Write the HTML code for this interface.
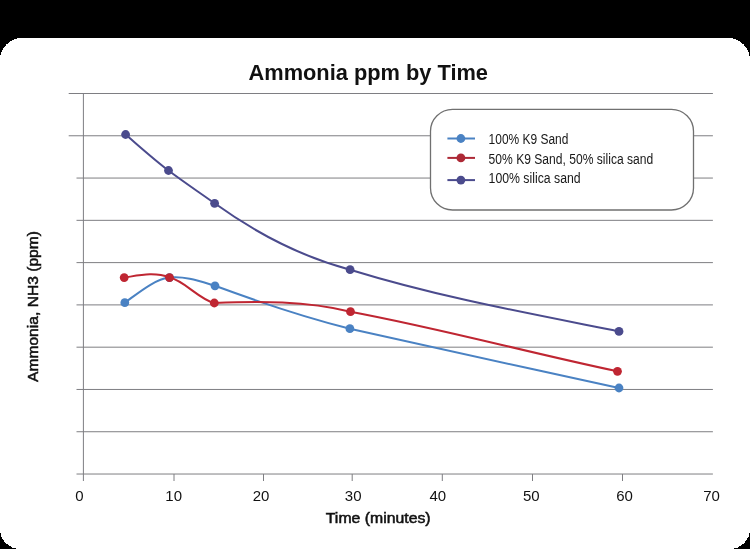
<!DOCTYPE html>
<html><head><meta charset="utf-8"><style>
html,body{margin:0;padding:0;background:#000;width:750px;height:549px;overflow:hidden}
svg{display:block;will-change:transform}
text{font-family:"Liberation Sans",sans-serif;fill:#111}
.ti{font-weight:bold;font-size:21.4px}
.ax{font-size:14px;stroke:#111;stroke-width:0.5px}
.tk{font-size:15px}
.lg{font-size:14px;fill:#181818}
</style></head><body>
<svg width="750" height="549" viewBox="0 0 750 549">
<path d="M22,38 H728 A22,22 0 0 1 750,60 V529 A20,20 0 0 1 730,549 H20 A20,20 0 0 1 0,529 V60 A22,22 0 0 1 22,38 Z" fill="#fff" shape-rendering="crispEdges"/>
<line x1="68.7" y1="93.50" x2="712.9" y2="93.50" stroke="#7e7e82" stroke-width="1.0"/>
<line x1="68.7" y1="135.78" x2="712.9" y2="135.78" stroke="#7e7e82" stroke-width="1.0"/>
<line x1="76.5" y1="178.06" x2="712.9" y2="178.06" stroke="#7e7e82" stroke-width="1.0"/>
<line x1="76.5" y1="220.34" x2="712.9" y2="220.34" stroke="#7e7e82" stroke-width="1.0"/>
<line x1="76.5" y1="262.62" x2="712.9" y2="262.62" stroke="#7e7e82" stroke-width="1.0"/>
<line x1="76.5" y1="304.90" x2="712.9" y2="304.90" stroke="#7e7e82" stroke-width="1.0"/>
<line x1="76.5" y1="347.18" x2="712.9" y2="347.18" stroke="#7e7e82" stroke-width="1.0"/>
<line x1="76.5" y1="389.46" x2="712.9" y2="389.46" stroke="#7e7e82" stroke-width="1.0"/>
<line x1="76.5" y1="431.74" x2="712.9" y2="431.74" stroke="#7e7e82" stroke-width="1.0"/>
<line x1="76.5" y1="474.02" x2="712.9" y2="474.02" stroke="#7e7e82" stroke-width="1.0"/>
<line x1="83.4" y1="93" x2="83.4" y2="481" stroke="#7e7e82" stroke-width="1.0"/>
<line x1="174.0" y1="474" x2="174.0" y2="481" stroke="#7e7e82" stroke-width="1.0"/>
<line x1="263.5" y1="474" x2="263.5" y2="481" stroke="#7e7e82" stroke-width="1.0"/>
<line x1="352.2" y1="474" x2="352.2" y2="481" stroke="#7e7e82" stroke-width="1.0"/>
<line x1="442.3" y1="474" x2="442.3" y2="481" stroke="#7e7e82" stroke-width="1.0"/>
<line x1="532.5" y1="474" x2="532.5" y2="481" stroke="#7e7e82" stroke-width="1.0"/>
<line x1="622.5" y1="474" x2="622.5" y2="481" stroke="#7e7e82" stroke-width="1.0"/>
<text x="79.5" y="500.8" text-anchor="middle" class="tk">0</text>
<text x="173.7" y="500.8" text-anchor="middle" class="tk">10</text>
<text x="261.1" y="500.8" text-anchor="middle" class="tk">20</text>
<text x="353.2" y="500.8" text-anchor="middle" class="tk">30</text>
<text x="437.8" y="500.8" text-anchor="middle" class="tk">40</text>
<text x="531.3" y="500.8" text-anchor="middle" class="tk">50</text>
<text x="624.5" y="500.8" text-anchor="middle" class="tk">60</text>
<text x="711.6" y="500.8" text-anchor="middle" class="tk">70</text>
<text x="248.5" y="79.7" textLength="239.5" lengthAdjust="spacingAndGlyphs" class="ti">Ammonia ppm by Time</text>
<text x="325.8" y="523.2" textLength="104.8" lengthAdjust="spacingAndGlyphs" class="ax">Time (minutes)</text>
<text transform="translate(38.3,382) rotate(-90)" x="0" y="0" textLength="151" lengthAdjust="spacingAndGlyphs" class="ax">Ammonia, NH3 (ppm)</text>
<path d="M124.80,302.70 C139.70,291.97 154.60,279.39 169.50,277.60 C184.67,275.78 199.83,281.25 215.00,285.80 C259.97,302.35 304.93,317.46 349.90,328.70 C439.60,349.33 529.30,368.27 619.00,388.00" fill="none" stroke="#4a82c3" stroke-width="2.0"/>
<circle cx="124.8" cy="302.7" r="4.4" fill="#4a82c3"/>
<circle cx="169.5" cy="277.6" r="4.4" fill="#4a82c3"/>
<circle cx="215.0" cy="285.8" r="4.4" fill="#4a82c3"/>
<circle cx="349.9" cy="328.7" r="4.4" fill="#4a82c3"/>
<circle cx="619.0" cy="388.0" r="4.4" fill="#4a82c3"/>
<path d="M124.20,277.60 C139.30,275.34 154.40,271.56 169.50,277.60 C184.43,280.59 199.37,299.71 214.30,303.00 C259.70,301.18 305.10,300.80 350.50,311.70 C439.50,328.25 528.50,352.61 617.50,371.30" fill="none" stroke="#bf2632" stroke-width="2.0"/>
<circle cx="124.2" cy="277.6" r="4.4" fill="#bf2632"/>
<circle cx="169.5" cy="277.6" r="4.4" fill="#bf2632"/>
<circle cx="214.3" cy="303.0" r="4.4" fill="#bf2632"/>
<circle cx="350.5" cy="311.7" r="4.4" fill="#bf2632"/>
<circle cx="617.5" cy="371.3" r="4.4" fill="#bf2632"/>
<path d="M125.60,134.50 C139.90,146.80 154.20,159.63 168.50,170.50 C183.87,182.18 199.23,192.24 214.60,203.30 C259.77,235.82 304.93,257.73 350.10,269.70 C439.73,297.22 529.37,313.47 619.00,331.40" fill="none" stroke="#4b4b8d" stroke-width="2.0"/>
<circle cx="125.6" cy="134.5" r="4.4" fill="#4b4b8d"/>
<circle cx="168.5" cy="170.5" r="4.4" fill="#4b4b8d"/>
<circle cx="214.6" cy="203.3" r="4.4" fill="#4b4b8d"/>
<circle cx="350.1" cy="269.7" r="4.4" fill="#4b4b8d"/>
<circle cx="619.0" cy="331.4" r="4.4" fill="#4b4b8d"/>
<rect x="430.5" y="109.3" width="263" height="100.7" rx="22" ry="22" fill="#fff" stroke="#707070" stroke-width="1.3"/>
<line x1="447.4" y1="138.5" x2="475" y2="138.5" stroke="#4a82c3" stroke-width="2"/>
<circle cx="460.9" cy="138.5" r="4.4" fill="#4a82c3"/>
<text x="488.6" y="143.7" textLength="79.8" lengthAdjust="spacingAndGlyphs" class="lg">100% K9 Sand</text>
<line x1="447.4" y1="157.9" x2="475" y2="157.9" stroke="#ad2936" stroke-width="2"/>
<circle cx="460.9" cy="157.9" r="4.4" fill="#ad2936"/>
<text x="488.6" y="163.5" textLength="164.7" lengthAdjust="spacingAndGlyphs" class="lg">50% K9 Sand, 50% silica sand</text>
<line x1="447.4" y1="180.1" x2="475" y2="180.1" stroke="#4b4b8d" stroke-width="2"/>
<circle cx="460.9" cy="180.1" r="4.4" fill="#4b4b8d"/>
<text x="488.6" y="183.3" textLength="92.0" lengthAdjust="spacingAndGlyphs" class="lg">100% silica sand</text>
</svg>
</body></html>
